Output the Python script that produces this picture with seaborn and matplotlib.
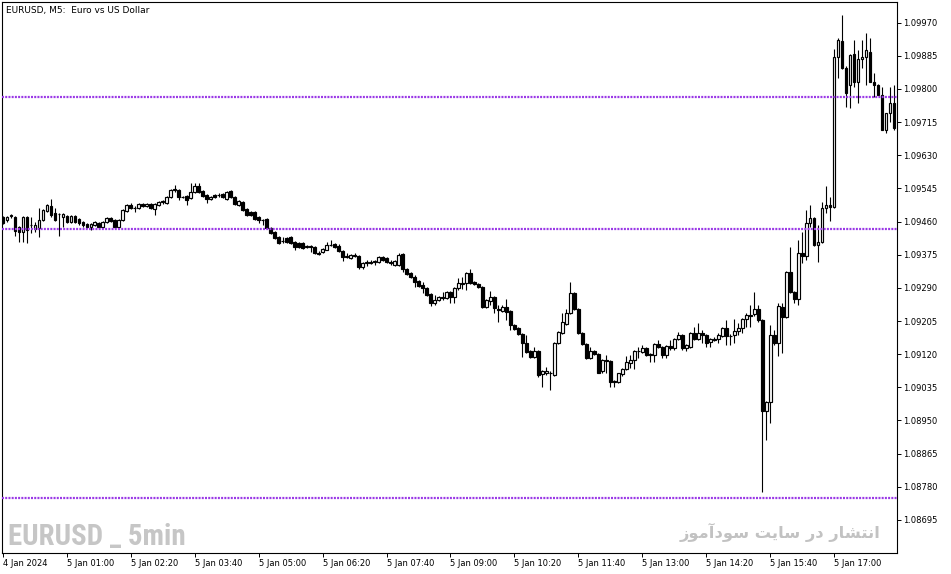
import numpy as np
import pandas as pd
import matplotlib
matplotlib.use("Agg")
import matplotlib.pyplot as plt
from matplotlib import font_manager
import seaborn as sns

# ── EURUSD M5 candles (4 Jan 23:40 -> 5 Jan 18:15) ──────────────────────────

opens = [
    1.09471, 1.09464, 1.09474, 1.09471, 1.09446, 1.09433, 1.09471, 1.09451, 1.09441, 1.09443,
    1.09464, 1.09487, 1.09500, 1.09482, 1.09479, 1.09471, 1.09474, 1.09459, 1.09474, 1.09466,
    1.09459, 1.09453, 1.09446, 1.09451, 1.09456, 1.09446, 1.09459, 1.09469, 1.09464, 1.09446,
    1.09464, 1.09487, 1.09502, 1.09494, 1.09494, 1.09505, 1.09500, 1.09505, 1.09492, 1.09502,
    1.09510, 1.09507, 1.09523, 1.09541, 1.09541, 1.09523, 1.09525, 1.09520, 1.09536, 1.09551,
    1.09538, 1.09528, 1.09518, 1.09528, 1.09528, 1.09530, 1.09518, 1.09538, 1.09523, 1.09502,
    1.09510, 1.09492, 1.09484, 1.09484, 1.09471, 1.09464, 1.09466, 1.09443, 1.09433, 1.09420,
    1.09410, 1.09418, 1.09420, 1.09407, 1.09405, 1.09405, 1.09394, 1.09397, 1.09394, 1.09379,
    1.09382, 1.09387, 1.09400, 1.09402, 1.09397, 1.09384, 1.09369, 1.09366, 1.09374, 1.09371,
    1.09343, 1.09353, 1.09356, 1.09356, 1.09356, 1.09369, 1.09366, 1.09356, 1.09348, 1.09348,
    1.09376, 1.09338, 1.09328, 1.09317, 1.09307, 1.09297, 1.09289, 1.09274, 1.09251, 1.09258,
    1.09266, 1.09263, 1.09279, 1.09266, 1.09289, 1.09302, 1.09302, 1.09328, 1.09305, 1.09299,
    1.09292, 1.09240, 1.09256, 1.09266, 1.09235, 1.09230, 1.09240, 1.09230, 1.09194, 1.09186,
    1.09171, 1.09148, 1.09127, 1.09112, 1.09127, 1.09068, 1.09071, 1.09073, 1.09066, 1.09148,
    1.09174, 1.09197, 1.09225, 1.09276, 1.09235, 1.09174, 1.09145, 1.09109, 1.09127, 1.09120,
    1.09076, 1.09104, 1.09102, 1.09050, 1.09048, 1.09068, 1.09081, 1.09097, 1.09104, 1.09127,
    1.09125, 1.09135, 1.09120, 1.09117, 1.09145, 1.09138, 1.09117, 1.09140, 1.09135, 1.09158,
    1.09168, 1.09135, 1.09138, 1.09174, 1.09158, 1.09174, 1.09168, 1.09150, 1.09158, 1.09158,
    1.09166, 1.09186, 1.09166, 1.09168, 1.09179, 1.09186, 1.09209, 1.09220, 1.09222, 1.09235,
    1.09207, 1.08974, 1.08997, 1.09168, 1.09148, 1.09240, 1.09215, 1.09330, 1.09279, 1.09261,
    1.09379, 1.09371, 1.09456, 1.09469, 1.09400, 1.09407, 1.09494, 1.09502, 1.09497, 1.09882,
    1.09923, 1.09854, 1.09810, 1.09890, 1.09818, 1.09877, 1.09882, 1.09895, 1.09818, 1.09810,
    1.09784, 1.09695, 1.09738, 1.09764,
]

highs = [
    1.09474, 1.09474, 1.09479, 1.09474, 1.09448, 1.09474, 1.09474, 1.09471, 1.09459, 1.09494,
    1.09492, 1.09505, 1.09518, 1.09494, 1.09482, 1.09482, 1.09477, 1.09477, 1.09477, 1.09469,
    1.09461, 1.09456, 1.09456, 1.09461, 1.09459, 1.09461, 1.09471, 1.09471, 1.09466, 1.09466,
    1.09492, 1.09505, 1.09507, 1.09500, 1.09507, 1.09507, 1.09507, 1.09507, 1.09507, 1.09512,
    1.09515, 1.09525, 1.09543, 1.09553, 1.09543, 1.09525, 1.09528, 1.09559, 1.09559, 1.09559,
    1.09541, 1.09530, 1.09525, 1.09530, 1.09533, 1.09533, 1.09538, 1.09541, 1.09525, 1.09515,
    1.09512, 1.09494, 1.09487, 1.09487, 1.09474, 1.09466, 1.09469, 1.09446, 1.09435, 1.09423,
    1.09420, 1.09420, 1.09423, 1.09410, 1.09407, 1.09407, 1.09400, 1.09400, 1.09397, 1.09384,
    1.09392, 1.09407, 1.09412, 1.09405, 1.09402, 1.09387, 1.09379, 1.09376, 1.09379, 1.09374,
    1.09356, 1.09361, 1.09361, 1.09361, 1.09371, 1.09371, 1.09369, 1.09361, 1.09361, 1.09379,
    1.09379, 1.09340, 1.09330, 1.09323, 1.09310, 1.09305, 1.09292, 1.09276, 1.09271, 1.09269,
    1.09279, 1.09281, 1.09281, 1.09292, 1.09315, 1.09317, 1.09330, 1.09338, 1.09307, 1.09302,
    1.09294, 1.09261, 1.09281, 1.09269, 1.09245, 1.09245, 1.09261, 1.09233, 1.09197, 1.09189,
    1.09174, 1.09168, 1.09130, 1.09138, 1.09130, 1.09079, 1.09086, 1.09076, 1.09150, 1.09179,
    1.09225, 1.09235, 1.09305, 1.09279, 1.09238, 1.09176, 1.09148, 1.09138, 1.09130, 1.09122,
    1.09107, 1.09117, 1.09104, 1.09053, 1.09073, 1.09084, 1.09115, 1.09117, 1.09130, 1.09138,
    1.09143, 1.09138, 1.09122, 1.09148, 1.09156, 1.09140, 1.09143, 1.09156, 1.09161, 1.09176,
    1.09171, 1.09145, 1.09176, 1.09189, 1.09199, 1.09181, 1.09171, 1.09161, 1.09163, 1.09174,
    1.09189, 1.09207, 1.09171, 1.09209, 1.09199, 1.09212, 1.09225, 1.09245, 1.09279, 1.09245,
    1.09209, 1.09000, 1.09194, 1.09181, 1.09251, 1.09251, 1.09333, 1.09394, 1.09281, 1.09412,
    1.09433, 1.09489, 1.09502, 1.09471, 1.09451, 1.09510, 1.09551, 1.09523, 1.09902, 1.09931,
    1.09990, 1.09859, 1.09890, 1.09925, 1.09900, 1.09925, 1.09943, 1.09931, 1.09841, 1.09813,
    1.09805, 1.09738, 1.09805, 1.09810,
]

lows = [
    1.09453, 1.09459, 1.09469, 1.09423, 1.09407, 1.09407, 1.09405, 1.09430, 1.09433, 1.09420,
    1.09461, 1.09484, 1.09471, 1.09461, 1.09423, 1.09446, 1.09456, 1.09456, 1.09456, 1.09451,
    1.09446, 1.09443, 1.09438, 1.09448, 1.09443, 1.09443, 1.09456, 1.09459, 1.09443, 1.09441,
    1.09461, 1.09484, 1.09492, 1.09484, 1.09492, 1.09497, 1.09497, 1.09492, 1.09477, 1.09500,
    1.09505, 1.09505, 1.09520, 1.09536, 1.09515, 1.09520, 1.09502, 1.09518, 1.09533, 1.09533,
    1.09523, 1.09507, 1.09515, 1.09520, 1.09523, 1.09520, 1.09515, 1.09520, 1.09502, 1.09500,
    1.09487, 1.09474, 1.09474, 1.09464, 1.09456, 1.09451, 1.09441, 1.09428, 1.09415, 1.09402,
    1.09405, 1.09405, 1.09402, 1.09387, 1.09392, 1.09389, 1.09392, 1.09382, 1.09376, 1.09374,
    1.09379, 1.09386, 1.09397, 1.09392, 1.09382, 1.09358, 1.09366, 1.09364, 1.09369, 1.09338,
    1.09338, 1.09346, 1.09351, 1.09348, 1.09353, 1.09358, 1.09353, 1.09348, 1.09346, 1.09346,
    1.09330, 1.09323, 1.09315, 1.09292, 1.09292, 1.09276, 1.09269, 1.09243, 1.09245, 1.09256,
    1.09258, 1.09261, 1.09251, 1.09251, 1.09284, 1.09287, 1.09284, 1.09299, 1.09297, 1.09289,
    1.09238, 1.09238, 1.09245, 1.09225, 1.09202, 1.09227, 1.09207, 1.09181, 1.09181, 1.09168,
    1.09112, 1.09122, 1.09109, 1.09109, 1.09061, 1.09035, 1.09066, 1.09027, 1.09063, 1.09145,
    1.09171, 1.09194, 1.09222, 1.09233, 1.09171, 1.09143, 1.09107, 1.09107, 1.09117, 1.09071,
    1.09073, 1.09073, 1.09037, 1.09037, 1.09045, 1.09063, 1.09079, 1.09084, 1.09081, 1.09109,
    1.09122, 1.09115, 1.09099, 1.09099, 1.09135, 1.09109, 1.09109, 1.09132, 1.09132, 1.09156,
    1.09132, 1.09127, 1.09135, 1.09156, 1.09156, 1.09148, 1.09138, 1.09138, 1.09153, 1.09148,
    1.09163, 1.09143, 1.09143, 1.09148, 1.09168, 1.09174, 1.09189, 1.09189, 1.09217, 1.09202,
    1.08766, 1.08900, 1.08943, 1.09143, 1.09115, 1.09122, 1.09214, 1.09276, 1.09251, 1.09245,
    1.09353, 1.09361, 1.09446, 1.09397, 1.09356, 1.09405, 1.09482, 1.09461, 1.09494, 1.09828,
    1.09851, 1.09754, 1.09751, 1.09805, 1.09764, 1.09854, 1.09810, 1.09818, 1.09779, 1.09784,
    1.09695, 1.09687, 1.09715, 1.09695,
]

closes = [
    1.09456, 1.09471, 1.09477, 1.09435, 1.09433, 1.09471, 1.09438, 1.09450, 1.09451, 1.09464,
    1.09489, 1.09502, 1.09477, 1.09464, 1.09480, 1.09479, 1.09459, 1.09474, 1.09459, 1.09456,
    1.09451, 1.09446, 1.09453, 1.09459, 1.09446, 1.09459, 1.09469, 1.09461, 1.09446, 1.09464,
    1.09489, 1.09502, 1.09494, 1.09495, 1.09505, 1.09500, 1.09505, 1.09494, 1.09505, 1.09510,
    1.09512, 1.09523, 1.09541, 1.09543, 1.09523, 1.09522, 1.09515, 1.09536, 1.09551, 1.09536,
    1.09525, 1.09518, 1.09523, 1.09523, 1.09527, 1.09523, 1.09536, 1.09523, 1.09505, 1.09512,
    1.09489, 1.09477, 1.09477, 1.09466, 1.09464, 1.09463, 1.09443, 1.09430, 1.09418, 1.09405,
    1.09409, 1.09407, 1.09405, 1.09394, 1.09394, 1.09392, 1.09397, 1.09394, 1.09379, 1.09378,
    1.09389, 1.09400, 1.09399, 1.09394, 1.09384, 1.09369, 1.09371, 1.09374, 1.09371, 1.09343,
    1.09353, 1.09356, 1.09355, 1.09358, 1.09369, 1.09361, 1.09356, 1.09355, 1.09358, 1.09374,
    1.09338, 1.09325, 1.09317, 1.09305, 1.09294, 1.09289, 1.09271, 1.09251, 1.09258, 1.09266,
    1.09264, 1.09279, 1.09266, 1.09289, 1.09302, 1.09301, 1.09328, 1.09302, 1.09299, 1.09292,
    1.09240, 1.09258, 1.09266, 1.09238, 1.09233, 1.09240, 1.09227, 1.09194, 1.09184, 1.09171,
    1.09148, 1.09125, 1.09112, 1.09127, 1.09066, 1.09076, 1.09076, 1.09071, 1.09148, 1.09176,
    1.09202, 1.09225, 1.09276, 1.09235, 1.09174, 1.09145, 1.09109, 1.09127, 1.09120, 1.09073,
    1.09104, 1.09102, 1.09048, 1.09049, 1.09071, 1.09081, 1.09099, 1.09104, 1.09127, 1.09129,
    1.09135, 1.09117, 1.09119, 1.09145, 1.09138, 1.09117, 1.09140, 1.09135, 1.09158, 1.09168,
    1.09135, 1.09143, 1.09174, 1.09158, 1.09174, 1.09168, 1.09148, 1.09158, 1.09157, 1.09168,
    1.09186, 1.09166, 1.09167, 1.09179, 1.09186, 1.09209, 1.09220, 1.09219, 1.09235, 1.09207,
    1.08974, 1.08997, 1.09168, 1.09148, 1.09243, 1.09215, 1.09330, 1.09279, 1.09261, 1.09379,
    1.09371, 1.09456, 1.09469, 1.09400, 1.09407, 1.09494, 1.09502, 1.09497, 1.09882, 1.09925,
    1.09854, 1.09790, 1.09887, 1.09818, 1.09877, 1.09882, 1.09900, 1.09818, 1.09810, 1.09784,
    1.09695, 1.09738, 1.09764, 1.09700,
]

time_labels = ['4 Jan 2024', '5 Jan 01:00', '5 Jan 02:20', '5 Jan 03:40', '5 Jan 05:00',
               '5 Jan 06:20', '5 Jan 07:40', '5 Jan 09:00', '5 Jan 10:20', '5 Jan 11:40',
               '5 Jan 13:00', '5 Jan 14:20', '5 Jan 15:40', '5 Jan 17:00']
price_ticks = [1.09970, 1.09885, 1.09800, 1.09715, 1.09630, 1.09545, 1.09460, 1.09375,
               1.09290, 1.09205, 1.09120, 1.09035, 1.08950, 1.08865, 1.08780, 1.08695]
levels = [1.09780, 1.09440, 1.08750]

title = 'EURUSD, M5:  Euro vs US Dollar'
mark_left = 'EURUSD _ 5min'
mark_right = 'انتشار در سایت سودآموز'

BARS_PER_LABEL = 16  # 80 minutes of M5 bars


# ── minimal Persian shaping (matplotlib has no bidi / joining) ──────────────
FORMS = {  # isolated, final, initial, medial
    'ا': ('\uFE8D', '\uFE8E', None, None),
    'آ': ('\uFE81', '\uFE82', None, None),
    'ن': ('\uFEE5', '\uFEE6', '\uFEE7', '\uFEE8'),
    'ت': ('\uFE95', '\uFE96', '\uFE97', '\uFE98'),
    'ش': ('\uFEB5', '\uFEB6', '\uFEB7', '\uFEB8'),
    'ر': ('\uFEAD', '\uFEAE', None, None),
    'ز': ('\uFEAF', '\uFEB0', None, None),
    'د': ('\uFEA9', '\uFEAA', None, None),
    'و': ('\uFEED', '\uFEEE', None, None),
    'س': ('\uFEB1', '\uFEB2', '\uFEB3', '\uFEB4'),
    'م': ('\uFEE1', '\uFEE2', '\uFEE3', '\uFEE4'),
    'ی': ('\uFEF1', '\uFEF2', '\uFEF3', '\uFEF4'),
}


def shape_fa(text):
    out = []
    for i, ch in enumerate(text):
        if ch not in FORMS:
            out.append(ch)
            continue
        iso, fin, ini, med = FORMS[ch]
        prev = text[i - 1] if i > 0 else ''
        nxt = text[i + 1] if i + 1 < len(text) else ''
        join_prev = prev in FORMS and FORMS[prev][2] is not None
        join_next = nxt in FORMS and ini is not None
        if join_prev and join_next:
            out.append(med)
        elif join_prev:
            out.append(fin)
        elif join_next:
            out.append(ini)
        else:
            out.append(iso)
    return ''.join(reversed(out))


def first_font(names):
    for n in names:
        try:
            font_manager.findfont(font_manager.FontProperties(family=n),
                                  fallback_to_default=False)
            return n
        except ValueError:
            continue
    return 'DejaVu Sans'


def fit_width(txt, px, fig):
    # shrink/grow a text so it spans about px pixels
    r = fig.canvas.get_renderer()
    w = txt.get_window_extent(renderer=r).width
    txt.set_fontsize(txt.get_fontsize() * px / w)


# ── plot ────────────────────────────────────────────────────────────────────
sns.set_theme(style='white')
plt.rcParams['font.family'] = ['DejaVu Sans']

df = pd.DataFrame({'open': opens, 'high': highs, 'low': lows, 'close': closes})
df['x'] = np.arange(len(df))
df['bull'] = df['close'] >= df['open']
df['bottom'] = df[['open', 'close']].min(axis=1)
df['height'] = (df['close'] - df['open']).abs()

fig = plt.figure(figsize=(9.51, 5.74), dpi=100)
ax = fig.add_axes([2 / 951, 1 - 552.7 / 574, 895 / 951, 550.7 / 574])

ax.vlines(df['x'], df['low'], df['high'], color='black', linewidth=0.8, zorder=2)
up = df[df['bull']]
dn = df[~df['bull']]
ax.bar(up['x'], up['height'], bottom=up['bottom'], width=0.62,
       facecolor='white', edgecolor='black', linewidth=0.85, zorder=3)
ax.bar(dn['x'], dn['height'], bottom=dn['bottom'], width=0.62,
       facecolor='black', edgecolor='black', linewidth=0.85, zorder=3)

for lvl in levels:
    ax.axhline(lvl, color='#9a38e6', linewidth=1.6, linestyle=(0, (0.9, 0.55)), zorder=4)

ax.set_xlim(-0.2, len(df) - 0.3)
ax.set_ylim(1.08611, 1.10023)

ax.yaxis.tick_right()
ax.set_yticks(price_ticks)
ax.set_yticklabels([f'{p:.5f}' for p in price_ticks])
ax.set_xticks(np.arange(len(time_labels)) * BARS_PER_LABEL)
ax.set_xticklabels(time_labels, ha='left')
ax.tick_params(axis='y', which='both', right=True, left=False, direction='out',
               length=3, width=0.7, labelsize=6, pad=1.5, colors='black')
ax.tick_params(axis='x', which='both', bottom=True, direction='out',
               length=3, width=0.7, labelsize=6, pad=1.5, colors='black')
for lab in ax.get_xticklabels():
    lab.set_horizontalalignment('left')

for side in ['left', 'right', 'top', 'bottom']:
    ax.spines[side].set_visible(True)
    ax.spines[side].set_color('black')
    ax.spines[side].set_linewidth(0.8)
ax.grid(False)

ax.text(0.004, 0.993, title, transform=ax.transAxes, ha='left', va='top',
        fontsize=6.5, color='black')

narrow = first_font(['DejaVu Sans Condensed', 'Liberation Sans Narrow',
                     'Roboto Condensed', 'Open Sans Condensed'])
t_left = ax.text(0.007, 0.014, mark_left, transform=ax.transAxes, ha='left',
                 va='baseline', fontsize=21, fontweight='bold', color='#c6c6c6',
                 family=[narrow, 'DejaVu Sans'])
t_right = ax.text(0.982, 0.026, shape_fa(mark_right), transform=ax.transAxes,
                  ha='right', va='baseline', fontsize=15, fontweight='semibold',
                  color='#c2c2c2', family=['DejaVu Sans'])
fit_width(t_left, 177, fig)
fit_width(t_right, 200, fig)

fig.savefig('out.png', dpi=100, facecolor='white')
